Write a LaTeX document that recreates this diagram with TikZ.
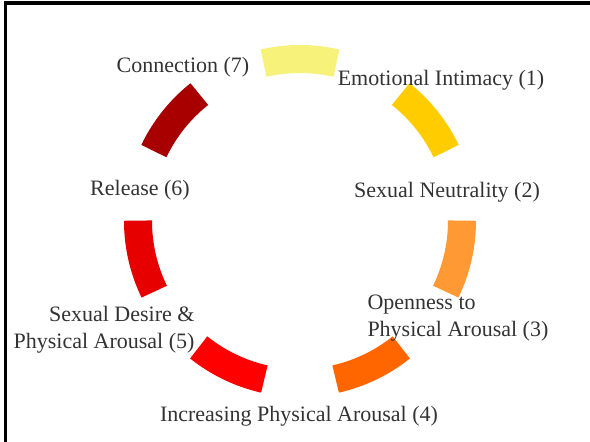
\documentclass[tikz,border=0pt]{standalone}
\usepackage{fontspec}
\setmainfont{Liberation Serif}

\tikzset{every picture/.style={line width=0.75pt}}
\tikzset{
  ringarc/.style={line width=21pt},
  steplabel/.style={text={rgb,255:red,51;green,51;blue,51}, inner sep=0pt, font=\fontsize{16.5}{20.25}\selectfont},
  frameline/.style={line width=2.6pt, line cap=rect}
}

\begin{document}
\begin{tikzpicture}[x=0.75pt,y=0.75pt,yscale=-1,xscale=1]
\useasboundingbox (0,0) rectangle (590,442);

%Frame: top and left edge
\draw [frameline] (5.5,3) -- (590,3) ;
\draw [frameline] (5.5,3) -- (5.5,442) ;

\coordinate (ctr) at (300,221);

%Shape: Arc (1)
\draw [ringarc, color={rgb, 255:red, 247; green, 243; blue, 122 }] ([shift={(-103:162)}]ctr) arc [start angle=-103, end angle=-77, radius=162] ;
%Shape: Arc (2)
\draw [ringarc, color={rgb, 255:red, 255; green, 204; blue, 0 }] ([shift={(-51.57:162)}]ctr) arc [start angle=-51.57, end angle=-25.57, radius=162] ;
%Shape: Arc (3)
\draw [ringarc, color={rgb, 255:red, 255; green, 153; blue, 51 }] ([shift={(-0.14:162)}]ctr) arc [start angle=-0.14, end angle=25.86, radius=162] ;
%Shape: Arc (4)
\draw [ringarc, color={rgb, 255:red, 255; green, 102; blue, 0 }] ([shift={(51.29:162)}]ctr) arc [start angle=51.29, end angle=77.29, radius=162] ;
%Shape: Arc (5)
\draw [ringarc, color={rgb, 255:red, 255; green, 0; blue, 0 }] ([shift={(102.71:162)}]ctr) arc [start angle=102.71, end angle=128.71, radius=162] ;
%Shape: Arc (6)
\draw [ringarc, color={rgb, 255:red, 230; green, 0; blue, 0 }] ([shift={(154.14:162)}]ctr) arc [start angle=154.14, end angle=180.14, radius=162] ;
%Shape: Arc (7)
\draw [ringarc, color={rgb, 255:red, 168; green, 0; blue, 0 }] ([shift={(205.57:162)}]ctr) arc [start angle=205.57, end angle=231.57, radius=162] ;

%Labels
\node [steplabel] (emotional) at (441,80.5) {Emotional Intimacy (1)};
\node [steplabel] (neutrality) at (447,192.5) {Sexual Neutrality (2)};
\node [steplabel, anchor=west, align=left] (openness) at (367,318) {Openness to\\Physical Arousal (3)};
\node [steplabel] (increasing) at (299,416.5) {Increasing Physical Arousal (4)};
\node [steplabel, anchor=east, align=right] (desire) at (195,330) {Sexual Desire \&\\Physical Arousal (5)};
\node [steplabel] (release) at (140,190.5) {Release (6)};
\node [steplabel] (connection) at (183,67.5) {Connection (7)};

\end{tikzpicture}
\end{document}
